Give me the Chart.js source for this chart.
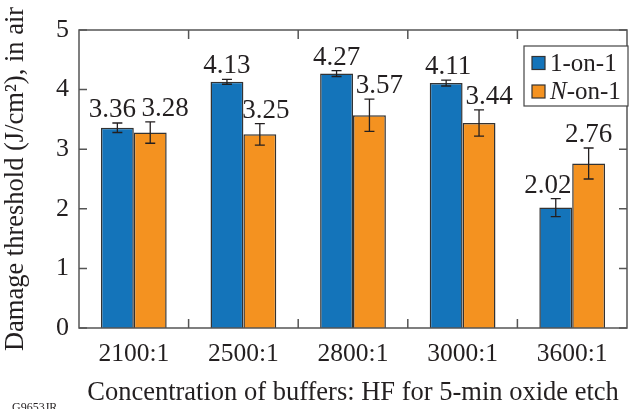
<!DOCTYPE html>
<html>
<head>
<meta charset="utf-8">
<script src="https://cdn.jsdelivr.net/npm/chart.js@4"></script>
<style>
  html, body { margin: 0; padding: 0; background: #fff; }
  #wrap { width: 633px; height: 409px; position: relative; }
</style>
</head>
<body>
<div id="wrap"><canvas id="grafico" width="633" height="409"></canvas></div>
<script>
// dados
const categorias = ['2100:1', '2500:1', '2800:1', '3000:1', '3600:1'];
const umPorUm    = [3.36, 4.13, 4.27, 4.11, 2.02];
const nPorUm     = [3.28, 3.25, 3.57, 3.44, 2.76];
const erroUm     = [0.08, 0.04, 0.05, 0.05, 0.15];
const erroN      = [0.18, 0.18, 0.27, 0.22, 0.26];
const ticksY     = [0, 1, 2, 3, 4, 5];

// deslocamento horizontal dos rótulos (px) para evitar sobreposição
const desvioRotUm = [-5, 0, 0, 2, -8];
const desvioRotN  = [15, 6, 10, 10, 0];

const AZUL = '#1474BA';
const LARANJA = '#F49220';
const TINTA = '#231F20';
const FONTE = "'Liberation Serif', 'Times New Roman', serif";

const moldura = {
  id: 'moldura',
  afterDatasetsDraw(chart) {
    const { ctx, chartArea: a, scales } = chart;
    ctx.save();

    // barras de erro
    ctx.strokeStyle = TINTA;
    ctx.lineWidth = 1.3;
    const erros = [erroUm, erroN];
    chart.data.datasets.forEach((ds, d) => {
      const meta = chart.getDatasetMeta(d);
      meta.data.forEach((bar, i) => {
        const v = ds.data[i], e = erros[d][i];
        const y1 = scales.y.getPixelForValue(v + e);
        const y2 = scales.y.getPixelForValue(v - e);
        ctx.beginPath();
        ctx.moveTo(bar.x, y1); ctx.lineTo(bar.x, y2);
        ctx.moveTo(bar.x - 5, y1); ctx.lineTo(bar.x + 5, y1);
        ctx.moveTo(bar.x - 5, y2); ctx.lineTo(bar.x + 5, y2);
        ctx.stroke();
      });
    });

    // rótulos de valor
    ctx.fillStyle = TINTA;
    ctx.font = '27px ' + FONTE;
    ctx.textAlign = 'center';
    ctx.textBaseline = 'alphabetic';
    const desvios = [desvioRotUm, desvioRotN];
    chart.data.datasets.forEach((ds, d) => {
      const meta = chart.getDatasetMeta(d);
      meta.data.forEach((bar, i) => {
        const v = ds.data[i], e = erros[d][i];
        const y = scales.y.getPixelForValue(v + e) - 6;
        ctx.fillText(v.toFixed(2), bar.x + desvios[d][i], y);
      });
    });

    // moldura do gráfico
    ctx.strokeStyle = '#555';
    ctx.lineWidth = 1.5;
    ctx.strokeRect(a.left, a.top, a.right - a.left, a.bottom - a.top);

    // marcas internas
    ctx.beginPath();
    ticksY.forEach((t) => {
      const y = scales.y.getPixelForValue(t);
      ctx.moveTo(a.left, y); ctx.lineTo(a.left + 8, y);
      ctx.moveTo(a.right, y); ctx.lineTo(a.right - 8, y);
    });
    for (let i = 1; i < categorias.length; i++) {
      const x = (scales.x.getPixelForValue(i - 1) + scales.x.getPixelForValue(i)) / 2;
      ctx.moveTo(x, a.bottom); ctx.lineTo(x, a.bottom - 9);
      ctx.moveTo(x, a.top); ctx.lineTo(x, a.top + 9);
    }
    ctx.stroke();

    // legenda
    const lx = 524, ly = 46, lw = 104, lh = 60;
    ctx.fillStyle = '#fff';
    ctx.fillRect(lx, ly, lw, lh);
    ctx.strokeStyle = '#444';
    ctx.lineWidth = 1.2;
    ctx.strokeRect(lx, ly, lw, lh);
    const itens = [[AZUL, null, '1-on-1'], [LARANJA, 'N', '-on-1']];
    itens.forEach(([cor, ital, txt], k) => {
      const cy = ly + 17 + k * 28.5;
      ctx.fillStyle = cor;
      ctx.fillRect(lx + 8, cy - 6.5, 13, 13);
      ctx.strokeStyle = '#333';
      ctx.strokeRect(lx + 8, cy - 6.5, 13, 13);
      ctx.fillStyle = TINTA;
      ctx.textAlign = 'left';
      ctx.textBaseline = 'middle';
      let x = lx + 26;
      if (ital) {
        ctx.font = 'italic 25px ' + FONTE;
        ctx.fillText(ital, x, cy + 1);
        x += ctx.measureText(ital).width;
      }
      ctx.font = '25px ' + FONTE;
      ctx.fillText(txt, x, cy + 1);
    });

    // código da figura
    ctx.font = '12px ' + FONTE;
    ctx.textAlign = 'left';
    ctx.textBaseline = 'alphabetic';
    ctx.fillText('G9653JR', 12, 411);

    ctx.restore();
  },
};

new Chart(document.getElementById('grafico'), {
  type: 'bar',
  data: {
    labels: categorias,
    datasets: [
      {
        label: '1-on-1',
        data: umPorUm,
        backgroundColor: AZUL,
        borderColor: '#333',
        borderWidth: 1.5,
        categoryPercentage: 0.6,
        barPercentage: 1.0,
      },
      {
        label: 'N-on-1',
        data: nPorUm,
        backgroundColor: LARANJA,
        borderColor: '#333',
        borderWidth: 1.5,
        categoryPercentage: 0.6,
        barPercentage: 1.0,
      },
    ],
  },
  options: {
    responsive: false,
    animation: false,
    devicePixelRatio: 1,
    layout: { padding: { top: 30, right: 6, left: 0, bottom: 0 } },
    plugins: {
      legend: { display: false },
      tooltip: { enabled: false },
    },
    scales: {
      x: {
        grid: { display: false, drawTicks: false },
        border: { display: false },
        ticks: { color: TINTA, font: { family: FONTE, size: 25.5 }, padding: 11 },
        title: {
          display: true,
          text: 'Concentration of buffers: HF for 5-min oxide etch',
          color: TINTA,
          font: { family: FONTE, size: 26.5 },
          padding: { top: 2, bottom: 0 },
        },
        afterFit: (s) => { s.height = 81; },
      },
      y: {
        min: 0,
        max: 5,
        afterBuildTicks: (s) => { s.ticks = ticksY.map((v) => ({ value: v })); },
        grid: { display: false, drawTicks: false },
        border: { display: false },
        ticks: { color: TINTA, font: { family: FONTE, size: 26 }, padding: 10 },
        title: {
          display: true,
          text: 'Damage threshold (J/cm²), in air',
          color: TINTA,
          font: { family: FONTE, size: 26.5 },
          padding: { top: 0, bottom: 2 },
        },
        afterFit: (s) => { s.width = 79; },
      },
    },
  },
  plugins: [moldura],
});
</script>
</body>
</html>
